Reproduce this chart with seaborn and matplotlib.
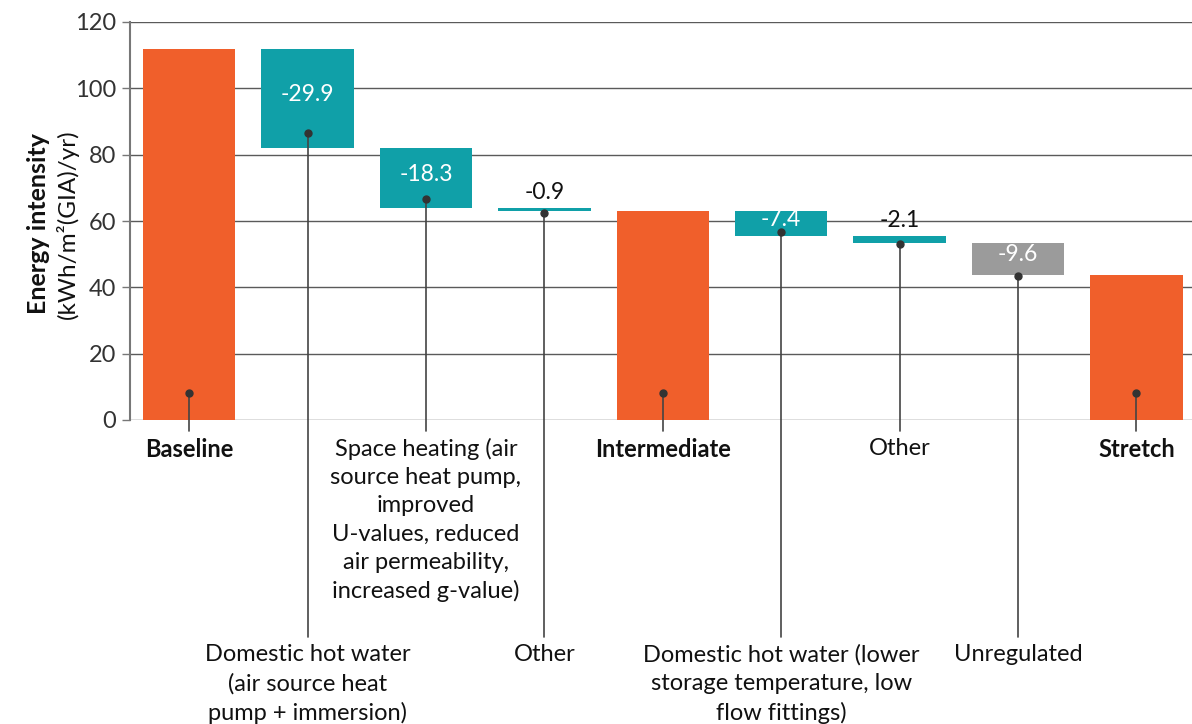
import numpy as np
import pandas as pd
import seaborn as sns
import matplotlib.pyplot as plt

# data
keys = ["base", "dhw1", "space", "other1", "inter", "dhw2", "other2", "unreg", "stretch"]
labels = ["Baseline",
          "Domestic hot water\n(air source heat\npump + immersion)",
          "Space heating (air\nsource heat pump,\nimproved\nU-values, reduced\nair permeability,\nincreased g-value)",
          "Other",
          "Intermediate",
          "Domestic hot water (lower\nstorage temperature, low\nflow fittings)",
          "Other",
          "Unregulated",
          "Stretch"]
steps = [112.0, -29.9, -18.3, -0.9, 0.0, -7.4, -2.1, -9.6, 0.0]
kinds = ["total", "drop", "drop", "drop", "total", "drop", "drop", "unreg", "total"]
rows = ["upper", "lower", "upper", "lower", "upper", "lower", "upper", "lower", "upper"]

ORANGE = "#F05F2B"
TEAL = "#10A0A8"
GREY = "#9B9B9B"
colors = {"total": ORANGE, "drop": TEAL, "unreg": GREY}

# waterfall levels
level = 0.0
bottoms, heights = [], []
for s, k in zip(steps, kinds):
    if k == "total":
        if s:
            level = s
        bottoms.append(0.0)
        heights.append(level)
    else:
        bottoms.append(level + s)
        heights.append(-s)
        level = level + s
df = pd.DataFrame({"key": keys, "height": heights, "bottom": bottoms, "kind": kinds})

sns.set_theme(style="white")
plt.rcParams["font.family"] = ["Lato", "DejaVu Sans"]

fig = plt.figure(figsize=(11.92, 7.24), dpi=100)
ax = fig.add_axes([130 / 1192, (724 - 420) / 724, 1 - 130 / 1192, (420 - 22) / 724])

sns.barplot(data=df, x="key", y="height", order=keys, bottom=df["bottom"].values,
            width=0.78, color=ORANGE, ax=ax, zorder=3, linewidth=0)
for p, k in zip(ax.patches, kinds):
    p.set_facecolor(colors[k])

ax.set_ylim(0, 120)
ax.set_xlim(-0.5, 8.47)
ax.set_yticks(range(0, 121, 20))
ax.yaxis.grid(True, color="#5a5a5a", lw=1, zorder=0)
ax.tick_params(axis="y", left=True, length=6, width=1, color="#777777", pad=4,
               labelsize=17, labelcolor="#333333")
ax.tick_params(axis="x", bottom=False, labelbottom=False)
ax.set_xlabel("")
ax.set_ylabel("")
for s in ["top", "right", "bottom"]:
    ax.spines[s].set_visible(False)
ax.spines["left"].set_color("#777777")
ax.spines["left"].set_linewidth(1.5)

for i, (lab, k, row, b, h, s) in enumerate(zip(labels, kinds, rows, bottoms, heights, steps)):
    if k == "total":
        dot = 8
    elif h > 5 and k == "drop":
        dot = b + 0.15 * h
    else:
        dot = b - 0.4
    end = -3.3 if row == "upper" else -65.4
    ty = -5.4 if row == "upper" else -67.6
    ax.plot([i, i], [dot, end], color="#444444", lw=1.2, zorder=4, clip_on=False)
    ax.plot(i, dot, "o", color="#333333", ms=5, zorder=5, clip_on=False)
    ax.text(i, ty, lab, ha="center", va="top", fontsize=17, color="#111111",
            fontweight="bold" if k == "total" else "normal", linespacing=1.42, clip_on=False)
    if k != "total":
        if h > 5:
            ax.text(i, b + h / 2 + 1.2, f"{s:.1f}", ha="center", va="center",
                    fontsize=16.5, color="white", zorder=6)
        else:
            ax.text(i, b + h + 1.6, f"{s:.1f}", ha="center", va="bottom",
                    fontsize=16.5, color="#111111", zorder=6)

fig.text(39 / 1192, 1 - 224 / 724, "Energy intensity", rotation=90, ha="center", va="center",
         fontsize=18, fontweight="bold", color="#111111")
fig.text(67 / 1192, 1 - 224 / 724, "(kWh/m²(GIA)/yr)", rotation=90, ha="center", va="center",
         fontsize=17.5, color="#111111")

fig.savefig("out.png", dpi=100)
